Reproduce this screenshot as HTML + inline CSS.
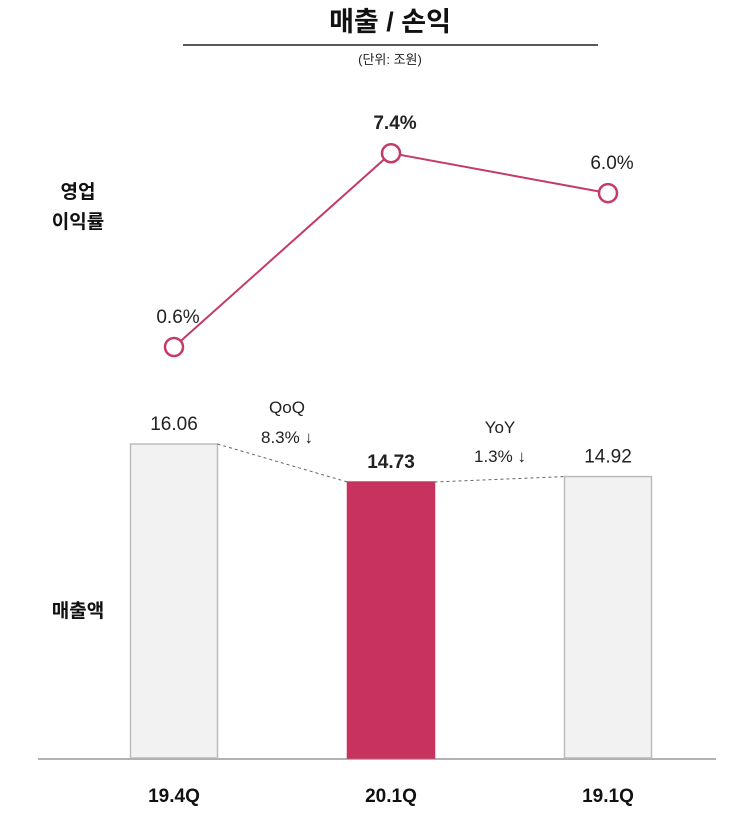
<!DOCTYPE html>
<html><head><meta charset="utf-8"><style>
body{margin:0;background:#fff;width:739px;height:815px;overflow:hidden}
svg text{font-family:"Liberation Sans Narrow","Liberation Sans","Noto Sans CJK KR",sans-serif}
svg text.kr{font-family:"Liberation Sans","Noto Sans CJK KR",sans-serif}
</style></head><body>
<svg id="chart" width="739" height="815" viewBox="0 0 739 815" xmlns="http://www.w3.org/2000/svg">
<text class="kr" x="390" y="31" text-anchor="middle" font-size="27" font-weight="bold" fill="#111">매출 / 손익</text>
<line x1="183" y1="45" x2="598" y2="45" stroke="#222" stroke-width="1.5"/>
<text class="kr" x="390" y="64" text-anchor="middle" font-size="13" fill="#222">(단위: 조원)</text>
<text class="kr" x="78" y="198" text-anchor="middle" font-size="19" font-weight="bold" fill="#111">영업</text>
<text class="kr" x="78" y="228" text-anchor="middle" font-size="19" font-weight="bold" fill="#111">이익률</text>
<text class="kr" x="78" y="617" text-anchor="middle" font-size="19" font-weight="bold" fill="#111">매출액</text>
<line x1="38" y1="759" x2="716" y2="759" stroke="#999" stroke-width="1.5"/>
<g id="g"></g>
<text x="287" y="413" text-anchor="middle" font-size="17" fill="#222">QoQ</text>
<text x="287" y="443" text-anchor="middle" font-size="17" fill="#222">8.3% ↓</text>
<text x="500" y="433" text-anchor="middle" font-size="17" fill="#222">YoY</text>
<text x="500" y="462" text-anchor="middle" font-size="17" fill="#222">1.3% ↓</text>
</svg>
<script>
const categories=["19.4Q","20.1Q","19.1Q"];
const revenue=[16.06,14.73,14.92];
const margin=[0.6,7.4,6.0];
const marginLabels=["0.6%","7.4%","6.0%"];
const NS="http://www.w3.org/2000/svg";
const g=document.getElementById("g");
const cx=i=>174+i*217;
const yBar=v=>758-28.57*(v-5.07);
const yLine=v=>347-28.5*(v-0.6);
const bw=87;
function mk(t,a){const e=document.createElementNS(NS,t);for(const k in a)e.setAttribute(k,a[k]);g.appendChild(e);return e;}
categories.forEach((c,i)=>{
  const hl=i===1;
  const r=mk("rect",{x:cx(i)-bw/2,y:yBar(revenue[i]),width:bw,height:758-yBar(revenue[i]),fill:hl?"#C8325F":"#F2F2F2",stroke:hl?"#C8325F":"#BDBDBD","stroke-width":1.5});
  
  
  const t=mk("text",{x:cx(i),y:yBar(revenue[i])-14,"text-anchor":"middle","font-size":19,"font-weight":hl?"bold":"normal",fill:"#222"});
  t.textContent=revenue[i].toFixed(2);
  
  
  const xl=mk("text",{x:cx(i),y:802,"text-anchor":"middle","font-size":19,"font-weight":"bold",fill:"#111"});
  xl.textContent=c;
  
  
  if(i<categories.length-1){
    const d=mk("line",{x1:cx(i)+bw/2,y1:yBar(revenue[i]),x2:cx(i+1)-bw/2,y2:yBar(revenue[i+1]),stroke:"#666","stroke-dasharray":"3,3","stroke-width":1});
    
    
  }
});
const pts=margin.map((v,i)=>cx(i)+","+yLine(v)).join(" ");
const pl=mk("polyline",{points:pts,fill:"none",stroke:"#C43A68","stroke-width":2});


margin.forEach((v,i)=>{
  const c=mk("circle",{cx:cx(i),cy:yLine(v),r:9,fill:"#fff",stroke:"#C43A68","stroke-width":2.5});
  
  
  const t=mk("text",{x:cx(i)+4,y:yLine(v)-24,"text-anchor":"middle","font-size":19,"font-weight":i===1?"bold":"normal",fill:"#222"});
  t.textContent=marginLabels[i];
  
  
});
</script>
</body></html>
